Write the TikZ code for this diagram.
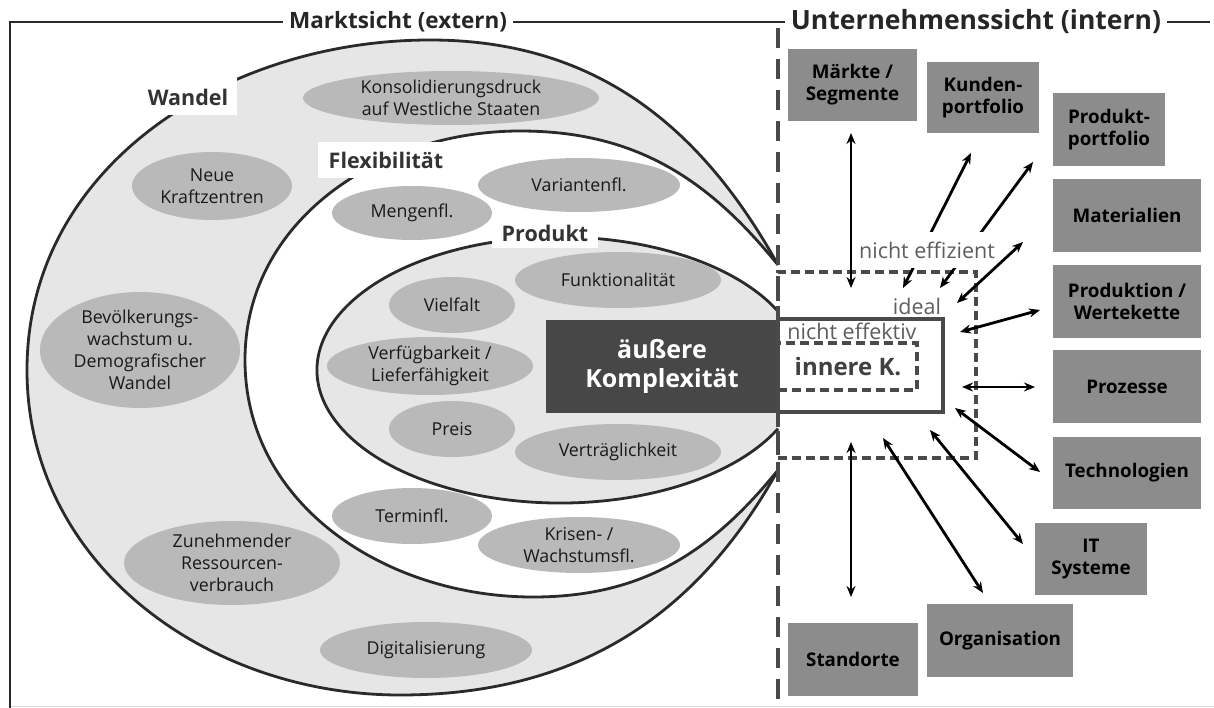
\documentclass[tikz,border=0pt]{standalone}
\usepackage{fontspec}
\setmainfont{Open Sans}
\usetikzlibrary{arrows.meta,shapes.geometric}
\definecolor{ring}{HTML}{E6E6E6}
\definecolor{ellg}{HTML}{B9B9B9}
\definecolor{boxg}{HTML}{8C8C8C}
\definecolor{darkb}{HTML}{474747}
\definecolor{outl}{HTML}{2A2A2A}
\definecolor{dashg}{HTML}{4A4A4A}
\definecolor{txtg}{HTML}{5E5E5E}
\begin{document}
\begin{tikzpicture}[x=1pt,y=1pt,
  ell/.style={ellipse, fill=ellg, draw=none, inner sep=0pt},
  elltxt/.style={align=center, font=\fontsize{17.8}{22}\selectfont, text=black!90, inner sep=0pt},
  ringlbl/.style={rectangle, fill=white, font=\fontsize{21.5}{24}\selectfont\bfseries, text=black!80, inner sep=0pt},
  rbox/.style={rectangle, fill=boxg, align=center, inner sep=0pt, font=\fontsize{18.8}{22}\selectfont\bfseries, text=black},
  arr/.style={line width=2.8pt, {Stealth[length=11pt,width=9pt]}-{Stealth[length=11pt,width=9pt]}},
  hdr/.style={fill=white, font=\fontsize{#1}{28}\selectfont\bfseries, text=black!85, inner xsep=6pt},
  gtxt/.style={font=\fontsize{21.5}{24}\selectfont, text=txtg, inner sep=1pt},
  framel/.style={line width=2.8pt, draw=outl},
  shapeline/.style={line width=2.8pt, draw=outl},
  rdash/.style={line width=3.2pt, draw=dashg, dash pattern=on 9pt off 5pt},
]
\useasboundingbox (0,0) rectangle (1214,-708);
\fill[white] (0,0) rectangle (1214,-708);

% frame
\draw[black!15, line width=1pt] (10,-706.5) -- (1214,-706.5);
\draw[framel] (10,-708) -- (10,-22) -- (1210,-22);

% outer ring (Wandel)
\fill[ring] (778,-265) to[out=119,in=0] (430,-40) to[out=180,in=90] (27,-370)
  to[out=-90,in=180] (400,-695) to[out=0,in=-119] (778,-470) -- cycle;
\draw[shapeline] (778,-265) to[out=119,in=0] (430,-40) to[out=180,in=90] (27,-370)
  to[out=-90,in=180] (400,-695) to[out=0,in=-119] (778,-470);
% middle ring (Flexibilitaet)
\fill[white] (778,-265) to[out=129,in=0] (520,-131) to[out=180,in=90] (245,-360)
  to[out=-90,in=180] (533,-597) to[out=0,in=-129] (778,-470) -- cycle;
\draw[shapeline] (778,-265) to[out=129,in=0] (520,-131) to[out=180,in=90] (245,-360)
  to[out=-90,in=180] (533,-597) to[out=0,in=-129] (778,-470);
% inner (Produkt)
\fill[ring] (778,-311.3) arc[start angle=26.2, end angle=333.8, x radius=243, y radius=133] -- cycle;
\draw[shapeline] (778,-311.3) arc[start angle=26.2, end angle=333.8, x radius=243, y radius=133];

% ring labels
\node[ringlbl, minimum width=98pt, minimum height=37pt] (wandel) at (188,-97) {Wandel};
\node[ringlbl, minimum width=137pt, minimum height=36pt] (flex) at (386,-160) {Flexibilität};
\node[ringlbl, minimum width=106pt, minimum height=30pt] (produkt) at (545,-233) {Produkt};

% ellipses
\node[ell, minimum width=296pt, minimum height=54pt, label={[elltxt]center:{Konsolidierungsdruck\\auf Westliche Staaten}}] (kons) at (451,-98) {};
\node[ell, minimum width=160pt, minimum height=68pt, label={[elltxt]center:{Neue\\Kraftzentren}}] (neue) at (212,-186) {};
\node[ell, minimum width=200pt, minimum height=116pt, label={[elltxt]center:{Bevölkerungs-\\wachstum u.\\Demografischer\\Wandel}}] (bevo) at (140,-350) {};
\node[ell, minimum width=216pt, minimum height=84pt, label={[elltxt]center:{Zunehmender\\Ressourcen-\\verbrauch}}] (zune) at (232,-563) {};
\node[ell, minimum width=212pt, minimum height=56pt, label={[elltxt]center:{Digitalisierung}}] (digi) at (426,-650) {};
\node[ell, minimum width=160pt, minimum height=56pt, label={[elltxt]center:{Terminfl.}}] (term) at (412,-516) {};
\node[ell, minimum width=202pt, minimum height=56pt, label={[elltxt]center:{Krisen- /\\Wachstumsfl.}}] (kris) at (579,-545) {};
\node[ell, minimum width=160pt, minimum height=54pt, label={[elltxt]center:{Mengenfl.}}] (meng) at (412,-213) {};
\node[ell, minimum width=202pt, minimum height=54pt, label={[elltxt]center:{Variantenfl.}}] (vari) at (579,-185) {};
\node[ell, minimum width=206pt, minimum height=56pt, label={[elltxt]center:{Funktionalität}}] (funk) at (618,-280) {};
\node[ell, minimum width=126pt, minimum height=56pt, label={[elltxt]center:{Vielfalt}}] (viel) at (452,-305) {};
\node[ell, minimum width=206pt, minimum height=58pt, label={[elltxt]center:{Verfügbarkeit /\\Lieferfähigkeit}}] (verf) at (430,-366) {};
\node[ell, minimum width=126pt, minimum height=56pt, label={[elltxt]center:{Preis}}] (prei) at (452,-429) {};
\node[ell, minimum width=206pt, minimum height=56pt, label={[elltxt]center:{Verträglichkeit}}] (vert) at (618,-452) {};

% dark box
\node[rectangle, fill=darkb, minimum width=232pt, minimum height=93pt, inner sep=0pt,
  align=center, text=white, font=\fontsize{25}{29}\selectfont\bfseries] (aussen) at (662,-366.5) {äußere\\Komplexität};

% inner complexity rectangles
\node[rectangle, rdash, minimum width=198pt, minimum height=186pt, inner sep=0pt] (effiz) at (877,-365) {};
\node[rectangle, draw=dashg, line width=3.2pt, fill=white, minimum width=165pt, minimum height=93pt, inner sep=0pt] (ideal) at (860.5,-365.5) {};
\node[rectangle, rdash, minimum width=139pt, minimum height=47pt, inner sep=0pt] (innerk) at (847.5,-366.5) {};
\node[font=\fontsize{24}{28}\selectfont\bfseries, text=black!75, inner sep=0pt] (innertxt) at (848,-367) {innere K.};
\node[gtxt] (idealtxt) at (917,-306) {ideal};
\node[gtxt] (effektxt) at (852,-331) {nicht effektiv};

% dashed divider
\draw[line width=4.8pt, draw=dashg, dash pattern=on 20pt off 11pt] (778,-28) -- (778,-708);

% header
\node[hdr=22.5] (markt) at (398,-22) {Marktsicht (extern)};
\node[hdr=26.5] (unter) at (976,-22) {Unternehmenssicht (intern)};

% right boxes
\node[rbox, minimum width=129pt, minimum height=72pt] (mark) at (852.5,-85) {Märkte /\\Segmente};
\node[rbox, minimum width=112pt, minimum height=71pt] (kund) at (983,-97.5) {Kunden-\\portfolio};
\node[rbox, minimum width=112pt, minimum height=73pt] (prod) at (1109,-129.5) {Produkt-\\portfolio};
\node[rbox, minimum width=148pt, minimum height=73pt] (mate) at (1127,-215.5) {Materialien};
\node[rbox, minimum width=148pt, minimum height=73pt] (prdk) at (1127,-301.5) {Produktion /\\Wertekette};
\node[rbox, minimum width=148pt, minimum height=73pt] (proz) at (1127,-386.5) {Prozesse};
\node[rbox, minimum width=148pt, minimum height=72pt] (tech) at (1127,-473) {Technologien};
\node[rbox, minimum width=112pt, minimum height=72pt] (itsy) at (1091,-559) {IT\\Systeme};
\node[rbox, minimum width=146pt, minimum height=73pt] (orga) at (1000,-640.5) {Organisation};
\node[rbox, minimum width=130pt, minimum height=73pt] (stan) at (853,-659.5) {Standorte};

% arrow end points
\coordinate (mk-o) at (851,-133);   \coordinate (mk-i) at (851,-288);
\coordinate (ku-o) at (971,-153);   \coordinate (ku-i) at (903,-288);
\coordinate (pp-o) at (1033,-162);  \coordinate (pp-i) at (940,-288);
\coordinate (ma-o) at (1023,-242);  \coordinate (ma-i) at (957,-303);
\coordinate (pw-o) at (1040,-310);  \coordinate (pw-i) at (960,-332);
\coordinate (pz-o) at (1035,-387);  \coordinate (pz-i) at (962,-387);
\coordinate (te-o) at (1040,-472);  \coordinate (te-i) at (955,-408);
\coordinate (it-o) at (1023,-544);  \coordinate (it-i) at (930,-430);
\coordinate (or-o) at (983,-593);   \coordinate (or-i) at (883,-438);
\coordinate (st-o) at (851,-597);   \coordinate (st-i) at (851,-442);

\draw[arr] (ku-o) -- (ku-i);
\draw[arr] (pp-o) -- (pp-i);
\node[gtxt, fill=white, minimum height=36pt, inner xsep=2pt] (effiztxt) at (927,-250) {nicht effizient};
\draw[arr] (mk-o) -- (mk-i);
\draw[arr] (ma-o) -- (ma-i);
\draw[arr] (pw-o) -- (pw-i);
\draw[arr] (pz-o) -- (pz-i);
\draw[arr] (te-o) -- (te-i);
\draw[arr] (it-o) -- (it-i);
\draw[arr] (or-o) -- (or-i);
\draw[arr] (st-o) -- (st-i);
\end{tikzpicture}
\end{document}
